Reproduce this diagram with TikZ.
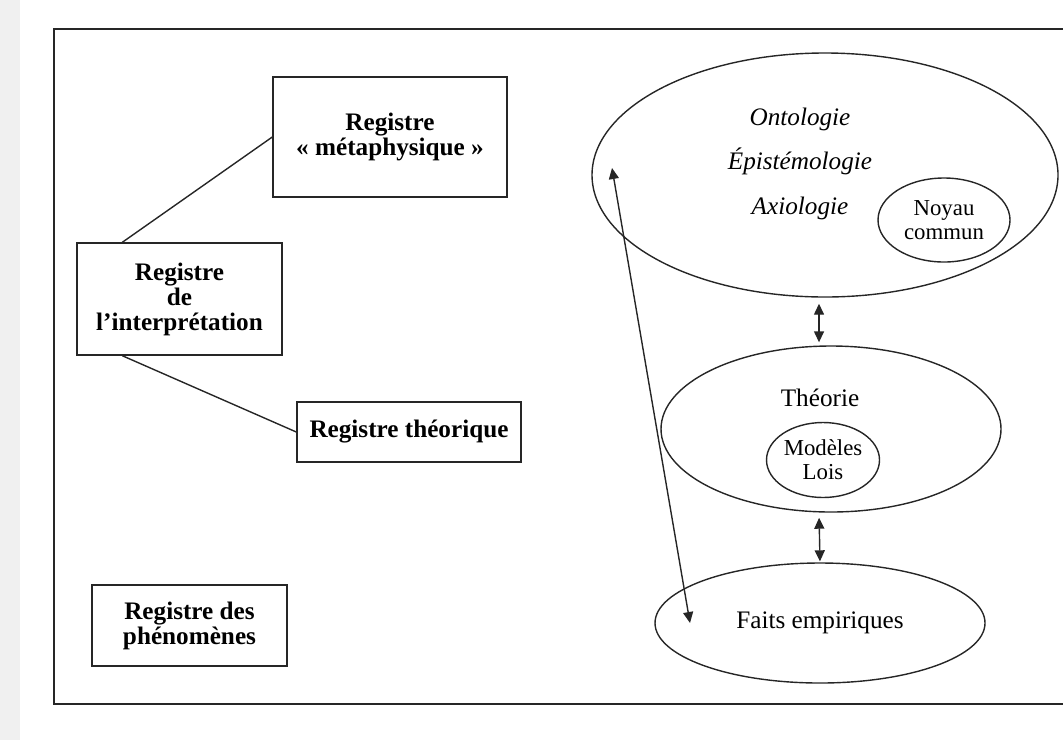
\documentclass[tikz,border=0pt]{standalone}
\usepackage{fontspec}
\setmainfont{Liberation Serif}
\usetikzlibrary{shapes.geometric,arrows.meta}

\tikzset{
  registre/.style={draw, rectangle, align=center, inner sep=0pt,
    font=\bfseries\fontsize{12.6}{12.5}\selectfont},
  bulle/.style={draw, ellipse, inner sep=0pt, align=center},
  grand/.style={font=\fontsize{12.6}{12.5}\selectfont},
  petit/.style={font=\fontsize{11.4}{12}\selectfont},
  discipline/.style={anchor=base, font=\itshape\fontsize{12.6}{12.5}\selectfont}
}

\begin{document}
\begin{tikzpicture}[x=0.5pt, y=-0.5pt, line width=0.7pt, draw=black!85,
    >={Triangle[length=5.5pt,width=5pt]}]
    \useasboundingbox (0,0) rectangle (1063,740);
    \fill[black!6] (0,0) rectangle (20,740);
    % cadre
    \draw (1080,29) -- (54,29) -- (54,704) -- (1080,704);

    % registres
    \node[registre, minimum width=117pt, minimum height=60pt] (meta) at (390,137) {Registre\\«~métaphysique~»};
    \node[registre, minimum width=102.5pt, minimum height=56pt] (interp) at (179.5,299) {Registre\\de\\l'interprétation};
    \node[registre, minimum width=112pt, minimum height=30pt] (theo) at (409,432) {Registre théorique};
    \node[registre, minimum width=97.5pt, minimum height=40.5pt] (phen) at (189.5,625.5) {Registre des\\phénomènes};
    \draw ([xshift=23pt]interp.north west) -- (meta.west);
    \draw ([xshift=23pt]interp.south west) -- (theo.west);

    % ellipses
    \node[bulle, minimum width=233pt, minimum height=122pt] (socle) at (825,175) {};
    \node[discipline] (onto) at (800,125) {Ontologie};
    \node[discipline] (episte) at (800,169) {Épistémologie};
    \node[discipline] (axio) at (800,214) {Axiologie};
    \node[bulle, petit, minimum width=66pt, minimum height=42pt] (noyau) at (944,220) {Noyau\\commun};

    \node[bulle, minimum width=170pt, minimum height=83pt] (theorie) at (831,429) {};
    \node[grand] (titre) at (820,398) {Théorie};
    \node[bulle, petit, minimum width=56.5pt, minimum height=37.5pt] (modeles) at (823,460) {Modèles\\Lois};

    \node[bulle, grand, minimum width=165pt, minimum height=60pt] (faits) at (820,623) {Faits empiriques};

    % fleches
    \draw[<->, shorten <=3pt, shorten >=1.5pt] ([xshift=-3pt]socle.south) -- ([xshift=-6pt]theorie.north);
    \draw[<->, shorten <=2.5pt, shorten >=0.5pt] ([xshift=-6pt]theorie.south) -- (faits.north);
    \coordinate (haut) at (612,168);
    \coordinate (bas) at (690,623);
    \draw[<->] (haut) -- (bas);
\end{tikzpicture}
\end{document}
